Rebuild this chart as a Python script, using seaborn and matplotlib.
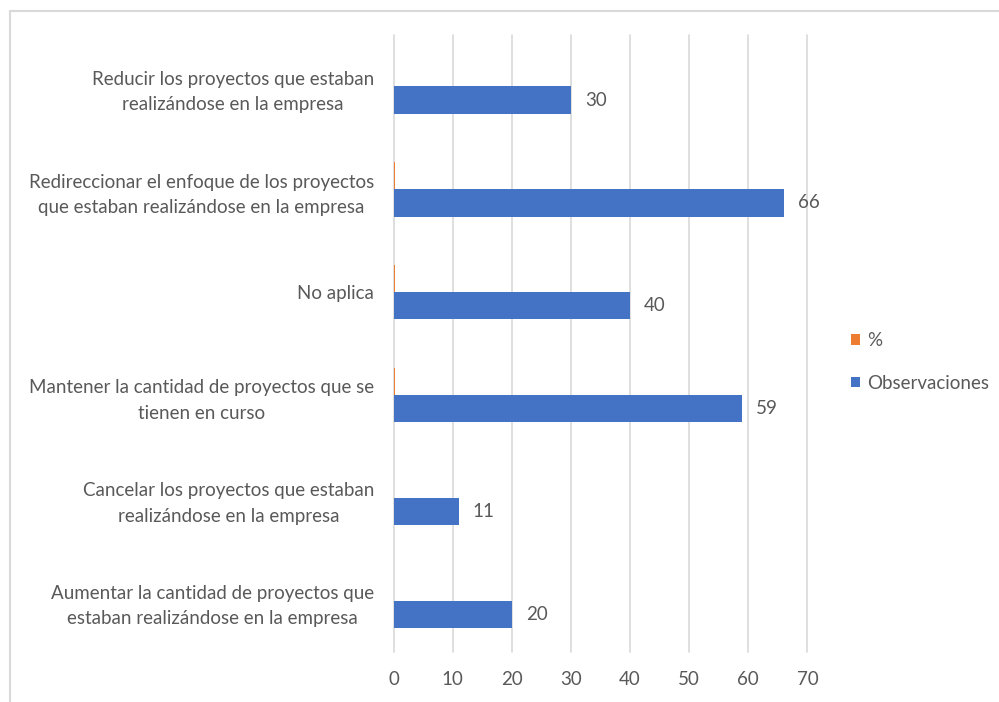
import matplotlib
matplotlib.use("Agg")
import matplotlib.pyplot as plt
from matplotlib.lines import Line2D
import seaborn as sns
import pandas as pd

# Categories listed top to bottom
categorias = [
    "Reducir los proyectos que estaban\nrealizándose en la empresa",
    "Redireccionar el enfoque de los proyectos\nque estaban realizándose en la empresa",
    "No aplica",
    "Mantener la cantidad de proyectos que se\ntienen en curso",
    "Cancelar los proyectos que estaban\nrealizándose en la empresa",
    "Aumentar la cantidad de proyectos que\nestaban realizándose en la empresa",
]
observaciones = [30, 66, 40, 59, 11, 20]
porcentaje = [0.13, 0.29, 0.18, 0.26, 0.05, 0.09]
series = ["%", "Observaciones"]
colores = ["#ED7D31", "#4472C4"]
x_ticks = [0, 10, 20, 30, 40, 50, 60, 70]

df = pd.DataFrame({
    "categoria": categorias * 2,
    "serie": [series[0]] * len(categorias) + [series[1]] * len(categorias),
    "valor": porcentaje + observaciones,
})

sns.set_theme(style="white")
plt.rcParams["font.family"] = ["Lato", "DejaVu Sans"]
texto = "#595959"
fs = 13.5

fig = plt.figure(figsize=(9.99, 7.02), dpi=100)
ax = fig.add_axes([393.5 / 999, 1 - 652 / 702, 414 / 999, 617 / 702])

sns.barplot(
    data=df, y="categoria", x="valor", hue="serie",
    order=categorias, hue_order=series, palette=colores,
    orient="h", width=0.53, gap=0, saturation=1, ax=ax, legend=True,
    edgecolor="none", linewidth=0,
)

ax.set_xlim(0, 70)
ax.set_ylim(len(categorias) - 0.5, -0.5)
ax.set_xticks(x_ticks)
ax.set_xticklabels([str(t) for t in x_ticks])
ax.set_xlabel("")
ax.set_ylabel("")
ax.grid(axis="x", color="#D9D9D9", linewidth=1.2)
for gl in ax.get_xgridlines():
    gl.set_clip_on(False)
ax.set_axisbelow(True)
for s in ax.spines.values():
    s.set_visible(False)
ax.tick_params(axis="x", length=0, pad=14, labelsize=fs, labelcolor=texto)
ax.tick_params(axis="y", length=0, pad=14, labelsize=fs, labelcolor=texto)
for lbl in ax.get_yticklabels():
    lbl.set_multialignment("center")
    lbl.set_linespacing(1.6)

# value labels on the Observaciones bars
ax.bar_label(ax.containers[1], labels=[str(v) for v in observaciones],
             padding=10, fontsize=fs, color=texto)

leg = ax.legend(
    loc="center left", bbox_to_anchor=(834 / 999, 0.5 - 11 / 702),
    bbox_transform=fig.transFigure,
    frameon=False, fontsize=fs, labelcolor=texto, handlelength=0.5, handleheight=0.5,
    handletextpad=0.35, labelspacing=1.35,
)

# outer chart border
fig.add_artist(Line2D([9.5 / 999, 1], [1 - 10.5 / 702] * 2, color="#D9D9D9", lw=1.5,
                      transform=fig.transFigure))
fig.add_artist(Line2D([9.5 / 999] * 2, [0, 1 - 10.5 / 702], color="#D9D9D9", lw=1.5,
                      transform=fig.transFigure))

fig.savefig("out.png", dpi=100)
